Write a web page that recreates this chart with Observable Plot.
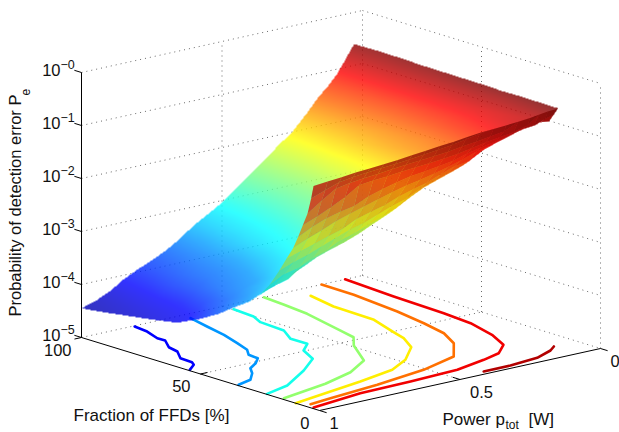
<!DOCTYPE html>
<html><head><meta charset="utf-8">
<script src="https://cdn.jsdelivr.net/npm/d3@7"></script>
<script src="https://cdn.jsdelivr.net/npm/@observablehq/plot@0.6"></script>
<style>html,body{margin:0;padding:0;background:#fff}svg{display:block}</style>
</head><body><div id="chart"></div>
<script>
// ---- data ----
const powers = [0.03,0.06,0.09,0.12,0.16,0.2,0.25,0.3,0.35,0.4,0.45,0.5,0.55,0.6,0.65,0.7,0.75,0.8,0.85,0.9,0.95,1];
const fractions = [100,90,80,70,60,50,42,35,30,25,21,17,14,11,9,7,5,3.5,2.5];
// lowest measured power for each fraction row, lowest measured fraction for each power column
const edgePower = [.025,.03,.035,.04,.045,.05,.054,.058,.06,.062,.065,.068,.07,.073,.075,.075,.075,.075,.075];
const edgeFraction = [9,9,8.5,8,7,6,5,4.3,3.6,3,2.8,2.5,2.5,2.5,2.5,2.5,2.5,2.5,2.5,2.5,2.5,2.5];
// log10(Pe), one row per power, one entry per fraction
const logPe = [
[-.6,-.59,-.58,-.58,-.57,-.56,-.55,-.55,-.54,-.53,-.53,-.52,-.52,-.51,-.5,-.5,-.5,-.5,-.5],
[-.85,-.82,-.8,-.78,-.75,-.72,-.7,-.68,-.65,-.62,-.6,-.58,-.56,-.54,-.5,-.5,-.5,-.5,-.5],
[-1.09,-1.07,-1.05,-1.03,-1.01,-.98,-.95,-.92,-.89,-.86,-.83,-.8,-.78,-.76,-.6,-.5,-.5,-.5,-.5],
[-1.27,-1.26,-1.25,-1.23,-1.19,-1.14,-1.08,-1.01,-.96,-.91,-.87,-.82,-.78,-.74,-.65,-.5,-.5,-.5,-.5],
[-1.47,-1.46,-1.45,-1.43,-1.37,-1.3,-1.22,-1.16,-1.1,-1.03,-.96,-.89,-.84,-.78,-.73,-.5,-.5,-.5,-.5],
[-1.72,-1.7,-1.67,-1.63,-1.57,-1.51,-1.42,-1.33,-1.25,-1.16,-1.08,-.98,-.9,-.82,-.75,-.65,-.5,-.5,-.5],
[-2,-1.96,-1.9,-1.82,-1.73,-1.65,-1.58,-1.52,-1.42,-1.31,-1.2,-1.09,-1.01,-.9,-.82,-.72,-.5,-.5,-.5],
[-2.2,-2.17,-2.13,-2.09,-2.03,-1.93,-1.8,-1.68,-1.58,-1.47,-1.35,-1.22,-1.1,-.97,-.87,-.76,-.62,-.5,-.5],
[-2.42,-2.38,-2.34,-2.27,-2.19,-2.12,-2.04,-1.93,-1.82,-1.69,-1.54,-1.38,-1.25,-1.03,-.92,-.8,-.66,-.5,-.5],
[-2.62,-2.6,-2.57,-2.52,-2.43,-2.31,-2.18,-2.06,-1.94,-1.78,-1.63,-1.46,-1.28,-1.12,-.98,-.85,-.7,-.53,-.5],
[-2.83,-2.8,-2.75,-2.68,-2.59,-2.5,-2.36,-2.22,-2.08,-1.89,-1.72,-1.55,-1.38,-1.2,-1.06,-.9,-.73,-.58,-.52],
[-3.04,-3,-2.93,-2.84,-2.72,-2.59,-2.45,-2.33,-2.2,-2.03,-1.85,-1.64,-1.48,-1.27,-1.1,-.93,-.77,-.63,-.55],
[-3.2,-3.14,-3.08,-3.02,-2.9,-2.78,-2.63,-2.48,-2.33,-2.18,-2,-1.77,-1.55,-1.33,-1.14,-.96,-.8,-.66,-.57],
[-3.35,-3.27,-3.2,-3.12,-3.04,-2.9,-2.75,-2.62,-2.5,-2.3,-2.1,-1.85,-1.63,-1.38,-1.17,-.98,-.82,-.69,-.6],
[-3.55,-3.47,-3.36,-3.25,-3.14,-3.04,-2.9,-2.75,-2.6,-2.42,-2.2,-1.95,-1.73,-1.45,-1.23,-1,-.84,-.72,-.63],
[-3.71,-3.63,-3.55,-3.47,-3.32,-3.16,-3.04,-2.87,-2.7,-2.52,-2.3,-2.05,-1.8,-1.52,-1.3,-1.03,-.87,-.75,-.66],
[-3.84,-3.76,-3.67,-3.6,-3.5,-3.3,-3.13,-2.98,-2.79,-2.6,-2.38,-2.12,-1.87,-1.6,-1.38,-1.05,-.9,-.77,-.68],
[-3.95,-3.87,-3.78,-3.7,-3.6,-3.48,-3.27,-3.08,-2.92,-2.69,-2.52,-2.22,-2,-1.68,-1.5,-1.08,-.92,-.79,-.7],
[-4.08,-4.02,-3.92,-3.84,-3.7,-3.57,-3.4,-3.2,-3.04,-2.8,-2.6,-2.32,-2.08,-1.76,-1.55,-1.25,-.95,-.82,-.72],
[-4.25,-4.17,-4.1,-4.05,-3.9,-3.7,-3.53,-3.33,-3.16,-2.98,-2.72,-2.42,-2.17,-1.87,-1.62,-1.38,-1,-.86,-.75],
[-4.37,-4.3,-4.22,-4.16,-4.09,-3.83,-3.63,-3.47,-3.25,-3.04,-2.78,-2.5,-2.25,-1.97,-1.72,-1.5,-1.17,-.95,-.77],
[-4.45,-4.39,-4.32,-4.25,-4.17,-3.96,-3.75,-3.52,-3.37,-3.16,-2.92,-2.6,-2.34,-2.08,-1.85,-1.6,-1.35,-1.05,-.8]
];
// floor contours: level, power, fraction
const contourLevels = [-4.1,-3.5,-3,-2.5,-2,-1.5,-1,-0.75];
const contourPower = [
[.816,.824,.848,.847,.885,.896,.935,.938,.952,.994],
[.644,.666,.687,.716,.74,.771,.775,.813,.858,.888,.936,.994],
[.494,.502,.526,.534,.576,.575,.628,.665,.763,.898,.996],
[.351,.359,.373,.417,.435,.49,.571,.678,.807,.991],
[.244,.269,.275,.316,.338,.383,.48,.575,.72,.936,1],
[.146,.148,.171,.195,.221,.268,.358,.51,.707,.894,.976],
[.062,.077,.086,.098,.132,.176,.243,.318,.44,.616,.799,.992],
[.397,.301,.194,.117,.083]
];
const contourFraction = [
[99.4,93.2,86.1,82.9,76.9,72,66.1,60.9,58.5,55.2],
[96.2,86.7,77.1,68.1,61.1,56.8,52.5,48.9,45.8,41.5,36.6,34.7],
[95.8,86.5,80.8,70,62.2,55.3,50.6,42.4,34.6,25.6,22.5],
[100,90.8,79.2,60,52.4,45.8,32,25,20.3,16],
[93,80.4,62.7,50,42.8,34.3,25.3,19.6,15.9,11.4,10],
[100,86.2,65.2,51.2,39.7,30,19.4,14.1,10.3,7.9,6.6],
[100,77.8,55.7,43,30,20,14.1,11.5,8.2,7.1,6.6,3.4],
[2.2,2.3,3.7,7.2,9.8]
];
// axes
const zTicks = [-5,-4,-3,-2,-1,0];
const zTickExp = ["−5","−4","−3","−2","−1","−0"];
const fractionTicks = [100,50,0];
const powerTicks = [1,0.5,0];
const powerTickLabels = ["1","0.5","0"];

// ---- fixed viewpoint of the original 3-D axes ----
const W = 619, H = 432;
const px = (p,f) => 600 - 281*p - 238*f/100;
const py = (p,f,z) => 348 + 62*p - 73*f/100 - 53*(z+5);

const jetStops = [0,.125,.375,.625,.875,1];
const jetColors = ["#00008f","#0000ff","#00ffff","#ffff00","#ff0000","#800000"];
const zMin = -4.6, zMax = -0.55;
const zDomain = jetStops.map(t => zMin + t*(zMax-zMin));
const jet = d3.scaleLinear().domain(zDomain).range(jetColors).clamp(true);

// surface facets, painted far to near
const facets = [];
const vx = (i,j) => {
  const p = Math.max(powers[j], edgePower[i]);
  const f = Math.max(fractions[i], edgeFraction[j]);
  const z = logPe[j][i];
  return {x:px(p,f), y:py(p,f,z), z, depth:p-f/100};
};
for (let i=0;i<fractions.length-1;i++) for (let j=0;j<powers.length-1;j++) {
  const c = [vx(i,j),vx(i,j+1),vx(i+1,j+1),vx(i+1,j)];
  const area = d3.polygonArea(c.map(d=>[d.x,d.y]));
  if (Math.abs(area) < 0.01) continue;
  facets.push({c, under:area<0, z:d3.mean(c,d=>d.z), depth:d3.mean(c,d=>d.depth)});
}
facets.sort((a,b)=>a.depth-b.depth);

// upper side of the surface: shaded across each facet, as the original's interpolated shading
const shaded = new Float64Array(W*H).fill(NaN);
const paint = (a,b,c) => {
  const d = (b.y-c.y)*(a.x-c.x)+(c.x-b.x)*(a.y-c.y);
  if (Math.abs(d)<1e-6) return;
  const x0=Math.max(0,Math.floor(Math.min(a.x,b.x,c.x))), x1=Math.min(W-1,Math.ceil(Math.max(a.x,b.x,c.x)));
  const y0=Math.max(0,Math.floor(Math.min(a.y,b.y,c.y))), y1=Math.min(H-1,Math.ceil(Math.max(a.y,b.y,c.y)));
  for (let y=y0;y<=y1;y++) for (let x=x0;x<=x1;x++) {
    const l1=((b.y-c.y)*(x+.5-c.x)+(c.x-b.x)*(y+.5-c.y))/d;
    const l2=((c.y-a.y)*(x+.5-c.x)+(a.x-c.x)*(y+.5-c.y))/d;
    const l3=1-l1-l2;
    if (l1<-.001||l2<-.001||l3<-.001) continue;
    shaded[y*W+x]=l1*a.z+l2*b.z+l3*c.z;
  }
};
facets.filter(q=>!q.under).forEach(q=>{paint(q.c[0],q.c[1],q.c[2]);paint(q.c[0],q.c[2],q.c[3]);});
// under side (the wall seen from in front) keeps its facets
const wall = [];
facets.filter(q=>q.under).forEach((q,k)=>{
  [...q.c,q.c[0]].forEach(d=>wall.push({id:k,x:d.x,y:d.y,z:q.z}));
});

// grid segments
const seg = (p1,f1,z1,p2,f2,z2)=>({x1:px(p1,f1),y1:py(p1,f1,z1),x2:px(p2,f2),y2:py(p2,f2,z2)});
const grid = [];
zTicks.forEach(z=>{grid.push(seg(1,100,z,0,100,z)); grid.push(seg(0,100,z,0,0,z));});
grid.push(seg(.5,100,-5,.5,100,0), seg(0,100,-5,0,100,0), seg(0,50,-5,0,50,0), seg(0,0,-5,0,0,0));
grid.push(seg(.5,100,-5,.5,0,-5), seg(1,50,-5,0,50,-5));
const axisSolid = [seg(1,100,-5,1,100,0), seg(1,100,-5,1,0,-5), seg(1,0,-5,0,0,-5)];
const tickMarks = [
  ...zTicks.map(z=>seg(1,100,z,1,103,z)),
  seg(1,50,-5,.975,50,-5),
  seg(1,100,-5,1.025,100,-5),
  seg(.5,0,-5,.5,3,-5),
  seg(1,0,-5,1,-3,-5),
  seg(0,0,-5,0,-3,-5)
];
const contourMarks = contourLevels.map((lv,k)=>{
  const d = contourPower[k].map((p,n)=>({x:px(p,contourFraction[k][n]),y:py(p,contourFraction[k][n],-5)}));
  return Plot.line(d,{x:"x",y:"y",stroke:jet(lv),strokeWidth:2.6,strokeLinejoin:"round",curve:"linear"});
});
const font = "Liberation Sans, Arial, Helvetica, sans-serif";
const txt = (d,o)=>Plot.text(d,{fontFamily:font,fill:"#111",stroke:null,...o});
const linkOpts = {x1:"x1",y1:"y1",x2:"x2",y2:"y2"};

const chart = Plot.plot({
  width:W,height:H,margin:0,
  style:{background:"#fff"},
  x:{domain:[0,W],range:[0,W],axis:null},
  y:{domain:[0,H],range:[0,H],axis:null},
  color:{type:"linear",domain:zDomain,range:jetColors,clamp:true},
  marks:[
    Plot.link(grid,{...linkOpts,stroke:"#444",strokeWidth:.8,strokeDasharray:"1 4"}),
    ...contourMarks,
    Plot.raster(shaded,{width:W,height:H,x1:0,y1:0,x2:W,y2:H,fill:d=>d,fillOpacity:.8}),
    Plot.line(wall,{x:"x",y:"y",z:"id",fill:"z",fillOpacity:.72,curve:"linear"}),
    Plot.line(wall,{x:"x",y:"y",z:"id",fill:"#3a1a00",fillOpacity:.12,curve:"linear"}),
    Plot.link(axisSolid,{...linkOpts,stroke:"#000",strokeWidth:1}),
    Plot.link(tickMarks,{...linkOpts,stroke:"#000",strokeWidth:1}),
    txt(zTicks,{x:()=>px(1,100)-21,y:z=>py(1,100,z)-1.5,text:()=>"10",textAnchor:"end",fontSize:16.5}),
    txt(zTicks.map((z,i)=>({z,e:zTickExp[i]})),{x:()=>px(1,100)-21,y:d=>py(1,100,d.z)-8,text:"e",textAnchor:"start",fontSize:12.5}),
    txt(fractionTicks,{x:f=>px(1,f)-10,y:f=>py(1,f,-5)+13,text:f=>String(f),textAnchor:"end",fontSize:16.5}),
    txt(powerTicks.map((p,i)=>({p,l:powerTickLabels[i]})),{x:d=>px(d.p,0)+10,y:d=>py(d.p,0,-5)+13,text:"l",textAnchor:"start",fontSize:16.5}),
    txt(["Fraction of FFDs [%]"],{x:()=>73,y:()=>415,text:d=>d,textAnchor:"start",fontSize:17}),
    txt(["Power p"],{x:()=>442,y:()=>419,text:d=>d,textAnchor:"start",fontSize:17}),
    txt(["tot"],{x:()=>505,y:()=>425,text:d=>d,textAnchor:"start",fontSize:12}),
    txt(["[W]"],{x:()=>528,y:()=>419,text:d=>d,textAnchor:"start",fontSize:17}),
    txt(["Probability of detection error P"],{x:()=>15,y:()=>316,text:d=>d,textAnchor:"start",rotate:-90,fontSize:16.5}),
    txt(["e"],{x:()=>26,y:()=>95,text:d=>d,textAnchor:"start",rotate:-90,fontSize:12})
  ]
});
document.getElementById("chart").append(chart);
</script></body></html>
